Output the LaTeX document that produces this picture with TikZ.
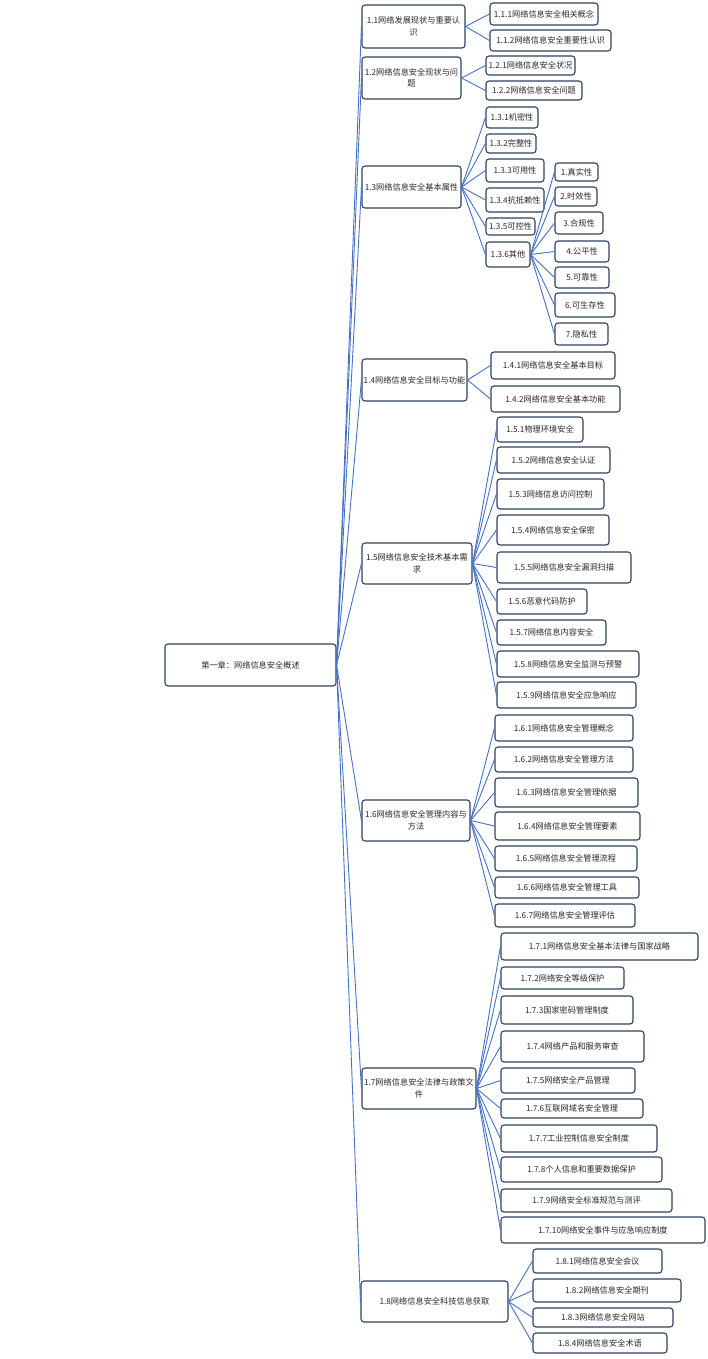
\documentclass[tikz,border=0pt]{standalone}
\usepackage{fontspec}
\setmainfont{Noto Sans CJK SC}
\definecolor{edgeblue}{RGB}{68,114,196}
\definecolor{boxline}{RGB}{50,65,95}
\definecolor{txt}{RGB}{40,40,40}
\tikzset{
  box/.style={draw=boxline, line width=1.1pt, rounded corners=3pt, fill=white, inner sep=0pt, align=center, font=\fontsize{8.2}{11.5}\selectfont, text=txt},
  edge/.style={draw=edgeblue, line width=0.9pt}
}
\newcommand\bx[6]{\node[box, minimum width={(#4-#2)*1pt}, minimum height={(#5-#3)*1pt}] (#1) at ({(#2+#4)/2},{(#3+#5)/2}) {#6};}
\begin{document}
\begin{tikzpicture}[x=1pt,y=-1pt]
\useasboundingbox[fill=white] (0,0) rectangle (707,1359);
% root
\bx{r}{165}{644}{336}{686}{第一章：网络信息安全概述}
% level 1
\bx{a}{362}{5}{465}{48}{1.1网络发展现状与重要认\\识}
\bx{b}{362}{57}{461}{99}{1.2网络信息安全现状与问\\题}
\bx{c}{362}{166}{461}{208}{1.3网络信息安全基本属性}
\bx{d}{362}{359}{467}{401}{1.4网络信息安全目标与功能}
\bx{e}{362}{543}{472}{584}{1.5网络信息安全技术基本需\\求}
\bx{f}{362}{800}{470}{841}{1.6网络信息安全管理内容与\\方法}
\bx{g}{362}{1068}{476}{1109}{1.7网络信息安全法律与政策文\\件}
\bx{h}{361}{1281}{508}{1322}{1.8网络信息安全科技信息获取}
% 1.1
\bx{a1}{490}{3}{598}{25}{1.1.1网络信息安全相关概念}
\bx{a2}{490}{30}{611}{51}{1.1.2网络信息安全重要性认识}
% 1.2
\bx{b1}{486}{56}{575}{75}{1.2.1网络信息安全状况}
\bx{b2}{486}{81}{582}{100}{1.2.2网络信息安全问题}
% 1.3
\bx{c1}{486}{107}{538}{128}{1.3.1机密性}
\bx{c2}{486}{134}{536}{153}{1.3.2完整性}
\bx{c3}{486}{159}{544}{182}{1.3.3可用性}
\bx{c4}{486}{188}{544}{212}{1.3.4抗抵赖性}
\bx{c5}{486}{218}{535}{235}{1.3.5可控性}
\bx{c6}{486}{242}{530}{267}{1.3.6其他}
\bx{l1}{555}{163}{598}{181}{1.真实性}
\bx{l2}{555}{187}{597}{206}{2.时效性}
\bx{l3}{555}{212}{603}{234}{3.合规性}
\bx{l4}{555}{241}{609}{262}{4.公平性}
\bx{l5}{555}{267}{609}{288}{5.可靠性}
\bx{l6}{555}{293}{615}{317}{6.可生存性}
\bx{l7}{555}{323}{608}{345}{7.隐私性}
% 1.4
\bx{d1}{491}{352}{615}{379}{1.4.1网络信息安全基本目标}
\bx{d2}{491}{386}{620}{412}{1.4.2网络信息安全基本功能}
% 1.5
\bx{e1}{497}{417}{583}{442}{1.5.1物理环境安全}
\bx{e2}{497}{447}{610}{473}{1.5.2网络信息安全认证}
\bx{e3}{497}{479}{604}{509}{1.5.3网络信息访问控制}
\bx{e4}{497}{515}{609}{545}{1.5.4网络信息安全保密}
\bx{e5}{497}{552}{631}{583}{1.5.5网络信息安全漏洞扫描}
\bx{e6}{497}{589}{587}{614}{1.5.6恶意代码防护}
\bx{e7}{497}{620}{606}{645}{1.5.7网络信息内容安全}
\bx{e8}{497}{651}{639}{677}{1.5.8网络信息安全监测与预警}
\bx{e9}{497}{682}{636}{708}{1.5.9网络信息安全应急响应}
% 1.6
\bx{f1}{495}{715}{633}{741}{1.6.1网络信息安全管理概念}
\bx{f2}{495}{747}{633}{772}{1.6.2网络信息安全管理方法}
\bx{f3}{495}{778}{638}{807}{1.6.3网络信息安全管理依据}
\bx{f4}{495}{812}{640}{840}{1.6.4网络信息安全管理要素}
\bx{f5}{495}{846}{637}{871}{1.6.5网络信息安全管理流程}
\bx{f6}{495}{877}{639}{898}{1.6.6网络信息安全管理工具}
\bx{f7}{495}{904}{635}{927}{1.6.7网络信息安全管理评估}
% 1.7
\bx{g1}{501}{933}{698}{960}{1.7.1网络信息安全基本法律与国家战略}
\bx{g2}{501}{967}{624}{989}{1.7.2网络安全等级保护}
\bx{g3}{501}{996}{633}{1024}{1.7.3国家密码管理制度}
\bx{g4}{501}{1031}{644}{1062}{1.7.4网络产品和服务审查}
\bx{g5}{501}{1068}{635}{1093}{1.7.5网络安全产品管理}
\bx{g6}{501}{1099}{643}{1118}{1.7.6互联网域名安全管理}
\bx{g7}{501}{1125}{657}{1152}{1.7.7工业控制信息安全制度}
\bx{g8}{501}{1157}{662}{1182}{1.7.8个人信息和重要数据保护}
\bx{g9}{501}{1189}{672}{1212}{1.7.9网络安全标准规范与测评}
\bx{g10}{501}{1217}{705}{1243}{1.7.10网络安全事件与应急响应制度}
% 1.8
\bx{h1}{533}{1249}{662}{1273}{1.8.1网络信息安全会议}
\bx{h2}{533}{1279}{681}{1302}{1.8.2网络信息安全期刊}
\bx{h3}{533}{1308}{673}{1327}{1.8.3网络信息安全网站}
\bx{h4}{533}{1333}{667}{1353}{1.8.4网络信息安全术语}
% connectors
\foreach \t in {a,b,c,d,e,f,g,h} \draw[edge] (r.east) -- (\t.west);
\foreach \t in {a1,a2} \draw[edge] (a.east) -- (\t.west);
\foreach \t in {b1,b2} \draw[edge] (b.east) -- (\t.west);
\foreach \t in {c1,c2,c3,c4,c5,c6} \draw[edge] (c.east) -- (\t.west);
\foreach \t in {l1,l2,l3,l4,l5,l6,l7} \draw[edge] (c6.east) -- (\t.west);
\foreach \t in {d1,d2} \draw[edge] (d.east) -- (\t.west);
\foreach \t in {e1,e2,e3,e4,e5,e6,e7,e8,e9} \draw[edge] (e.east) -- (\t.west);
\foreach \t in {f1,f2,f3,f4,f5,f6,f7} \draw[edge] (f.east) -- (\t.west);
\foreach \t in {g1,g2,g3,g4,g5,g6,g7,g8,g9,g10} \draw[edge] (g.east) -- (\t.west);
\foreach \t in {h1,h2,h3,h4} \draw[edge] (h.east) -- (\t.west);
\end{tikzpicture}
\end{document}
